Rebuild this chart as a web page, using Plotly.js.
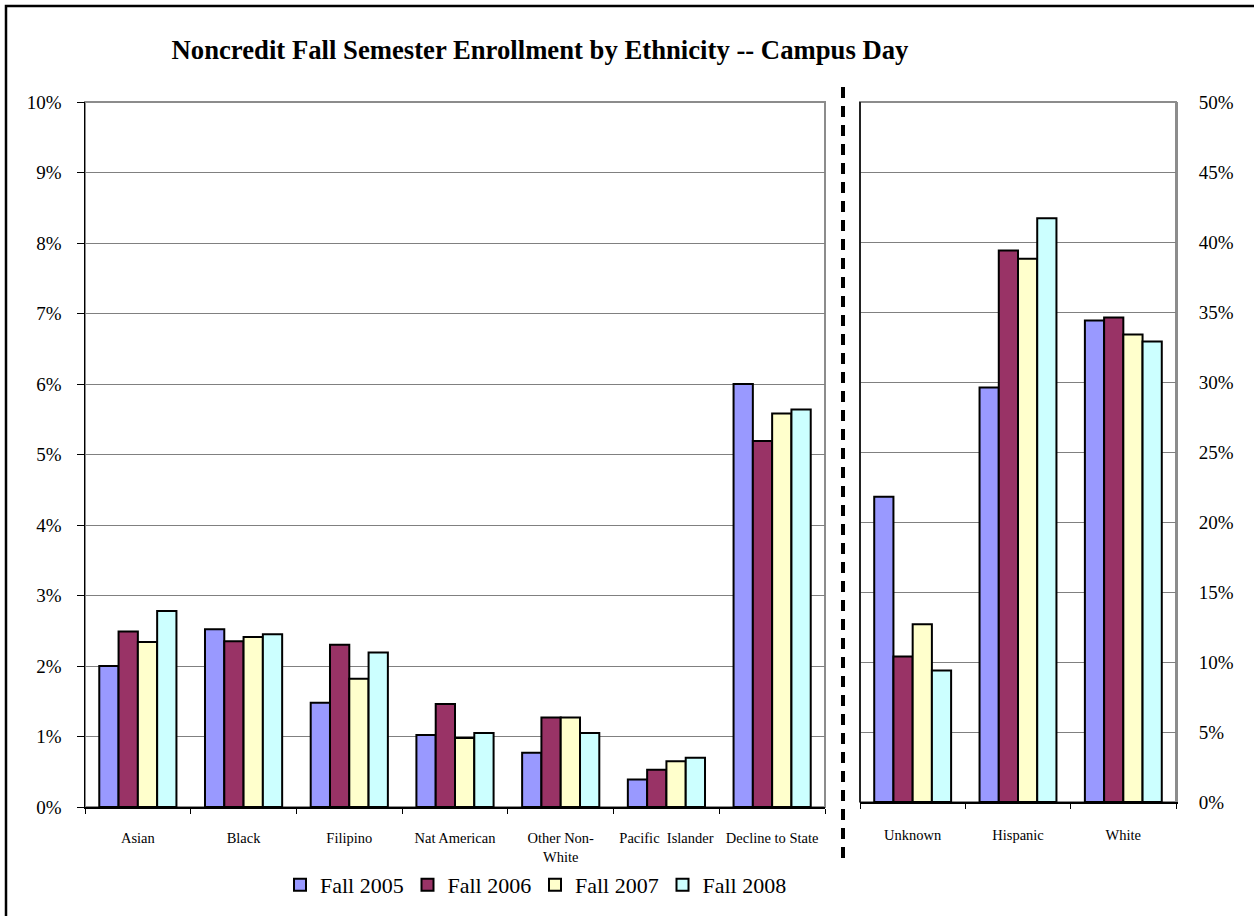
<!DOCTYPE html>
<html>
<head>
<meta charset="utf-8">
<script src="https://cdn.plot.ly/plotly-3.0.1.min.js"></script>
<style>
html,body{margin:0;padding:0;background:#fff;}
#chart{width:1254px;height:916px;}
</style>
</head>
<body>
<div id="chart"></div>
<script>
// ---- Data (percent of enrollment) ----
const seriesNames = ["Fall 2005", "Fall 2006", "Fall 2007", "Fall 2008"];
const seriesColors = ["#9999FF", "#993366", "#FFFFCC", "#CCFFFF"];

const smallCategories = ["Asian", "Black", "Filipino", "Nat American", "Other Non-<br>White", "Pacific  Islander", "Decline to State"];
const small2005 = [2.00, 2.52, 1.48, 1.02, 0.77, 0.39, 6.00];
const small2006 = [2.49, 2.35, 2.30, 1.46, 1.27, 0.53, 5.19];
const small2007 = [2.34, 2.41, 1.82, 0.98, 1.27, 0.65, 5.58];
const small2008 = [2.78, 2.45, 2.19, 1.05, 1.05, 0.70, 5.64];

const largeCategories = ["Unknown", "Hispanic", "White"];
const large2005 = [21.8, 29.6, 34.4];
const large2006 = [10.4, 39.4, 34.6];
const large2007 = [12.7, 38.8, 33.4];
const large2008 = [9.4, 41.7, 32.9];

const leftTicks = [0,1,2,3,4,5,6,7,8,9,10];
const leftTickLabels = ["0%","1%","2%","3%","4%","5%","6%","7%","8%","9%","10%"];
const rightTicks = [0,5,10,15,20,25,30,35,40,45,50];
const rightTickLabels = ["0%","5%","10%","15%","20%","25%","30%","35%","40%","45%","50%"];

const smallSeries = [small2005, small2006, small2007, small2008];
const largeSeries = [large2005, large2006, large2007, large2008];

const W = 1254, H = 916;
const px = v => v / W;
const py = v => 1 - v / H;

const FONT = "Liberation Serif";

const traces = [];
seriesNames.forEach((name, i) => {
  traces.push({
    type: "bar", name: name, x: smallCategories, y: smallSeries[i],
    xaxis: "x", yaxis: "y", legendgroup: name, showlegend: true,
    marker: {color: seriesColors[i], line: {color: "#000", width: 2}},
    hoverinfo: "x+y+name"
  });
});
seriesNames.forEach((name, i) => {
  traces.push({
    type: "bar", name: name, x: largeCategories, y: largeSeries[i],
    xaxis: "x2", yaxis: "y2", legendgroup: name, showlegend: false,
    marker: {color: seriesColors[i], line: {color: "#000", width: 2}},
    hoverinfo: "x+y+name"
  });
});

const layout = {
  width: W, height: H,
  margin: {l: 0, r: 0, t: 0, b: 0},
  paper_bgcolor: "#fff", plot_bgcolor: "#fff",
  font: {family: FONT, color: "#000"},
  barmode: "group", bargap: 0.27, bargroupgap: 0,
  title: {
    text: "<b>Noncredit Fall Semester Enrollment by Ethnicity -- Campus Day</b>",
    font: {family: FONT, size: 26.7, color: "#000"},
    x: px(540), xanchor: "center", xref: "paper",
    y: py(50), yanchor: "middle", yref: "paper"
  },
  xaxis: {
    domain: [px(85), px(825)], anchor: "y",
    type: "category", tickson: "boundaries",
    ticks: "outside", ticklen: 5, tickcolor: "#000", tickwidth: 1,
    showline: true, linecolor: "#000", linewidth: 1.5,
    showgrid: false, zeroline: false,
    tickfont: {family: FONT, size: 14.5, color: "#000"},
    ticklabelstandoff: 17, fixedrange: true
  },
  yaxis: {
    domain: [py(807), py(102)], anchor: "x",
    range: [0, 10], tickmode: "array", tickvals: leftTicks, ticktext: leftTickLabels,
    ticks: "outside", ticklen: 7, tickcolor: "#000", tickwidth: 1,
    showline: true, linecolor: "#000", linewidth: 1.5,
    showgrid: true, gridcolor: "#808080", gridwidth: 1, zeroline: false,
    tickfont: {family: FONT, size: 19, color: "#000"},
    ticklabelstandoff: 11, fixedrange: true
  },
  xaxis2: {
    domain: [px(860), px(1176)], anchor: "y2",
    type: "category", tickson: "boundaries",
    ticks: "outside", ticklen: 5, tickcolor: "#000", tickwidth: 1,
    showline: true, linecolor: "#000", linewidth: 1.5,
    showgrid: false, zeroline: false,
    tickfont: {family: FONT, size: 14.5, color: "#000"},
    ticklabelstandoff: 19, fixedrange: true
  },
  yaxis2: {
    domain: [py(802), py(102)], anchor: "x2", side: "right",
    range: [0, 50], tickmode: "array", tickvals: rightTicks, ticktext: rightTickLabels,
    ticks: "", showline: true, linecolor: "#8c8c8c", linewidth: 2,
    showgrid: true, gridcolor: "#808080", gridwidth: 1, zeroline: false,
    tickfont: {family: FONT, size: 19, color: "#000"},
    ticklabelstandoff: 17, fixedrange: true
  },
  legend: {
    orientation: "h", x: px(535), xanchor: "center", y: py(885), yanchor: "middle",
    font: {family: FONT, size: 22, color: "#000"},
    entrywidth: 82.5, entrywidthmode: "pixels",
    bgcolor: "rgba(0,0,0,0)", traceorder: "normal"
  },
  shapes: [
    {type: "rect", xref: "x domain", yref: "y domain", x0: 0, x1: 1, y0: 0, y1: 1,
     line: {color: "#8c8c8c", width: 2}, layer: "below"},
    {type: "rect", xref: "x2 domain", yref: "y2 domain", x0: 0, x1: 1, y0: 0, y1: 1,
     line: {color: "#8c8c8c", width: 2}, layer: "below"},
    {type: "line", xref: "x2 domain", yref: "y2 domain", x0: 0, x1: 0, y0: 0, y1: 1,
     line: {color: "#000", width: 1.5}, layer: "above"},
    {type: "line", xref: "paper", yref: "paper", x0: px(843), x1: px(843), y0: py(858), y1: py(84),
     line: {color: "#000", width: 4, dash: "11px,8px"}},
    {type: "rect", xref: "paper", yref: "paper", x0: px(6), x1: px(1275), y0: py(940), y1: py(6),
     line: {color: "#000", width: 2.5}}
  ]
};

Plotly.newPlot("chart", traces, layout, {displayModeBar: false, staticPlot: true});
</script>
</body>
</html>
